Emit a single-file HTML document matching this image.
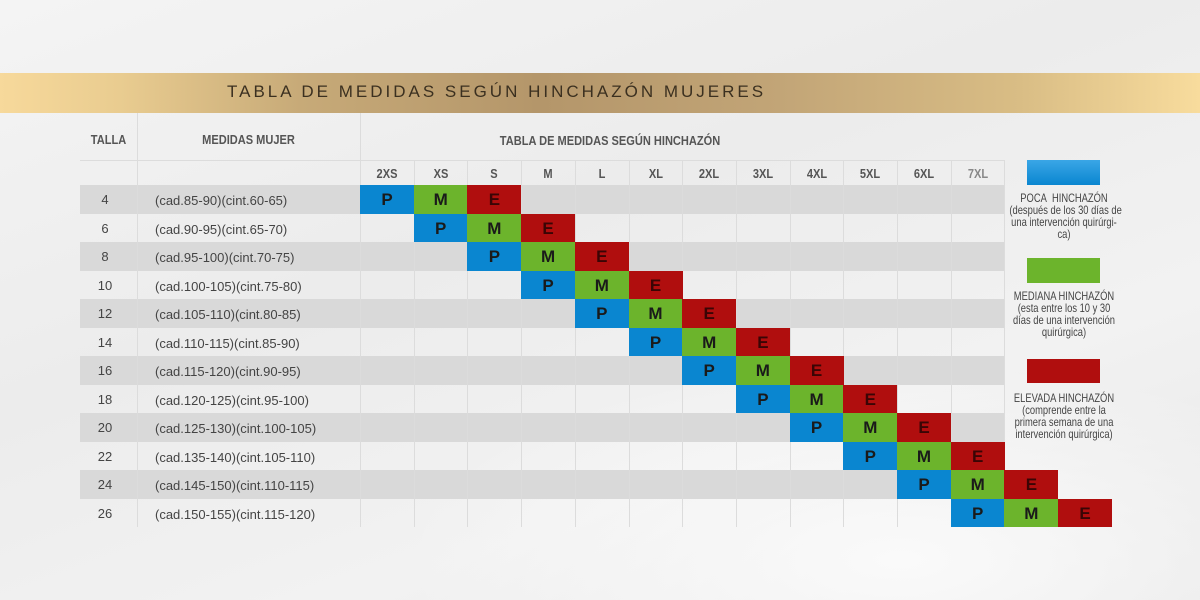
<!DOCTYPE html>
<html><head><meta charset="utf-8"><style>
*{margin:0;padding:0;box-sizing:border-box}
body{width:1200px;height:600px;overflow:hidden;position:relative;font-family:"Liberation Sans",sans-serif;
background:radial-gradient(ellipse 500px 200px at 900px 560px,#fafafa,rgba(250,250,250,0)),linear-gradient(160deg,#f4f4f4 0%,#ececec 40%,#f2f2f2 70%,#e8e8e8 100%);}
.a{position:absolute}
.banner{left:0;top:73px;width:1200px;height:40px;background:linear-gradient(90deg,#f7d99b 0%,#e9cc90 10%,#c7aa78 25%,#b4966a 45%,#c2a577 65%,#d9bd85 85%,#f8dc9d 100%);}
.banner span{position:absolute;left:227px;top:9px;font-size:17px;letter-spacing:3px;color:#3b3020;white-space:nowrap}
.h{color:#555;font-weight:bold;font-size:13px;text-align:center;transform:scaleX(.85)}
.row{left:80px;width:924px;height:28.5px}
.g{background:#d9d9d9}
.t{font-size:13px;color:#444}
.c{width:54px;height:28.5px;text-align:center;font-weight:bold;font-size:17px;line-height:29px;color:#1a1a1a}
.P{background:#0a86d0}.M{background:#6cb42c}.E{background:#b00e0e;color:#3a0505}
.vl{width:1px;background:#dcdcdc;top:113px;height:414px}
.lg{font-size:12px;color:#444;text-align:center;line-height:12px;width:140px;left:994px;transform:scaleX(.78);white-space:nowrap}
</style></head><body>
<div class="a banner"><span>TABLA DE MEDIDAS SEGÚN HINCHAZÓN MUJERES</span></div>
<div class="a h" style="left:80px;top:132px;width:57px">TALLA</div>
<div class="a h" style="left:137px;top:132px;width:223px">MEDIDAS MUJER</div>
<div class="a h" style="left:440px;top:133px;width:340px">TABLA DE MEDIDAS SEGÚN HINCHAZÓN</div>
<div id="g"></div>
<script>
var sizes=["2XS","XS","S","M","L","XL","2XL","3XL","4XL","5XL","6XL","7XL"];
var t=[4,6,8,10,12,14,16,18,20,22,24,26];
var m=["(cad.85-90)(cint.60-65)","(cad.90-95)(cint.65-70)","(cad.95-100)(cint.70-75)","(cad.100-105)(cint.75-80)","(cad.105-110)(cint.80-85)","(cad.110-115)(cint.85-90)","(cad.115-120)(cint.90-95)","(cad.120-125)(cint.95-100)","(cad.125-130)(cint.100-105)","(cad.135-140)(cint.105-110)","(cad.145-150)(cint.110-115)","(cad.150-155)(cint.115-120)"];
var h="";
var cw=53.7;
for(var r=0;r<12;r++){var y=185+r*28.5;
 if(r%2==0)h+='<div class="a row g" style="top:'+y+'px"></div>';
}
h+='<div class="a vl" style="left:137px"></div><div class="a vl" style="left:360px"></div>';
h+='<div class="a" style="left:80px;top:160px;width:924px;height:1px;background:#dcdcdc"></div>';
for(var i=0;i<=12;i++)h+='<div class="a" style="left:'+(360+i*cw)+'px;top:160px;width:1px;height:367px;background:#dcdcdc"></div>';
for(var i=0;i<12;i++)h+='<div class="a h" style="left:'+(360+i*cw)+'px;top:166px;width:54px;color:'+(i==11?'#888':'#555')+'">'+sizes[i]+'</div>';
for(var r=0;r<12;r++){var y=185+r*28.5;
 h+='<div class="a t" style="left:80px;width:50px;text-align:center;top:'+(y+7)+'px">'+t[r]+'</div>';
 h+='<div class="a t" style="left:155px;top:'+(y+8)+'px">'+m[r]+'</div>';
 var L=["P","M","E"];
 for(var k=0;k<3;k++)h+='<div class="a c '+L[k]+'" style="left:'+(360+(r+k)*cw)+'px;top:'+y+'px">'+L[k]+'</div>';
}
document.getElementById("g").innerHTML=h;
</script>
<div class="a" style="left:1027px;top:160px;width:73px;height:25px;background:linear-gradient(180deg,#3aa6e6,#0a86d0)"></div>
<div class="a lg" style="top:192px">POCA&nbsp; HINCHAZÓN<br>(después de los 30 días de<br>una intervención quirúrgi-<br>ca)</div>
<div class="a" style="left:1027px;top:258px;width:73px;height:25px;background:#6cb42c"></div>
<div class="a lg" style="top:290px">MEDIANA HINCHAZÓN<br>(esta entre los 10 y 30<br>días de una intervención<br>quirúrgica)</div>
<div class="a" style="left:1027px;top:359px;width:73px;height:24px;background:#b00e0e"></div>
<div class="a lg" style="top:392px">ELEVADA HINCHAZÓN<br>(comprende entre la<br>primera semana de una<br>intervención quirúrgica)</div>
</body></html>
